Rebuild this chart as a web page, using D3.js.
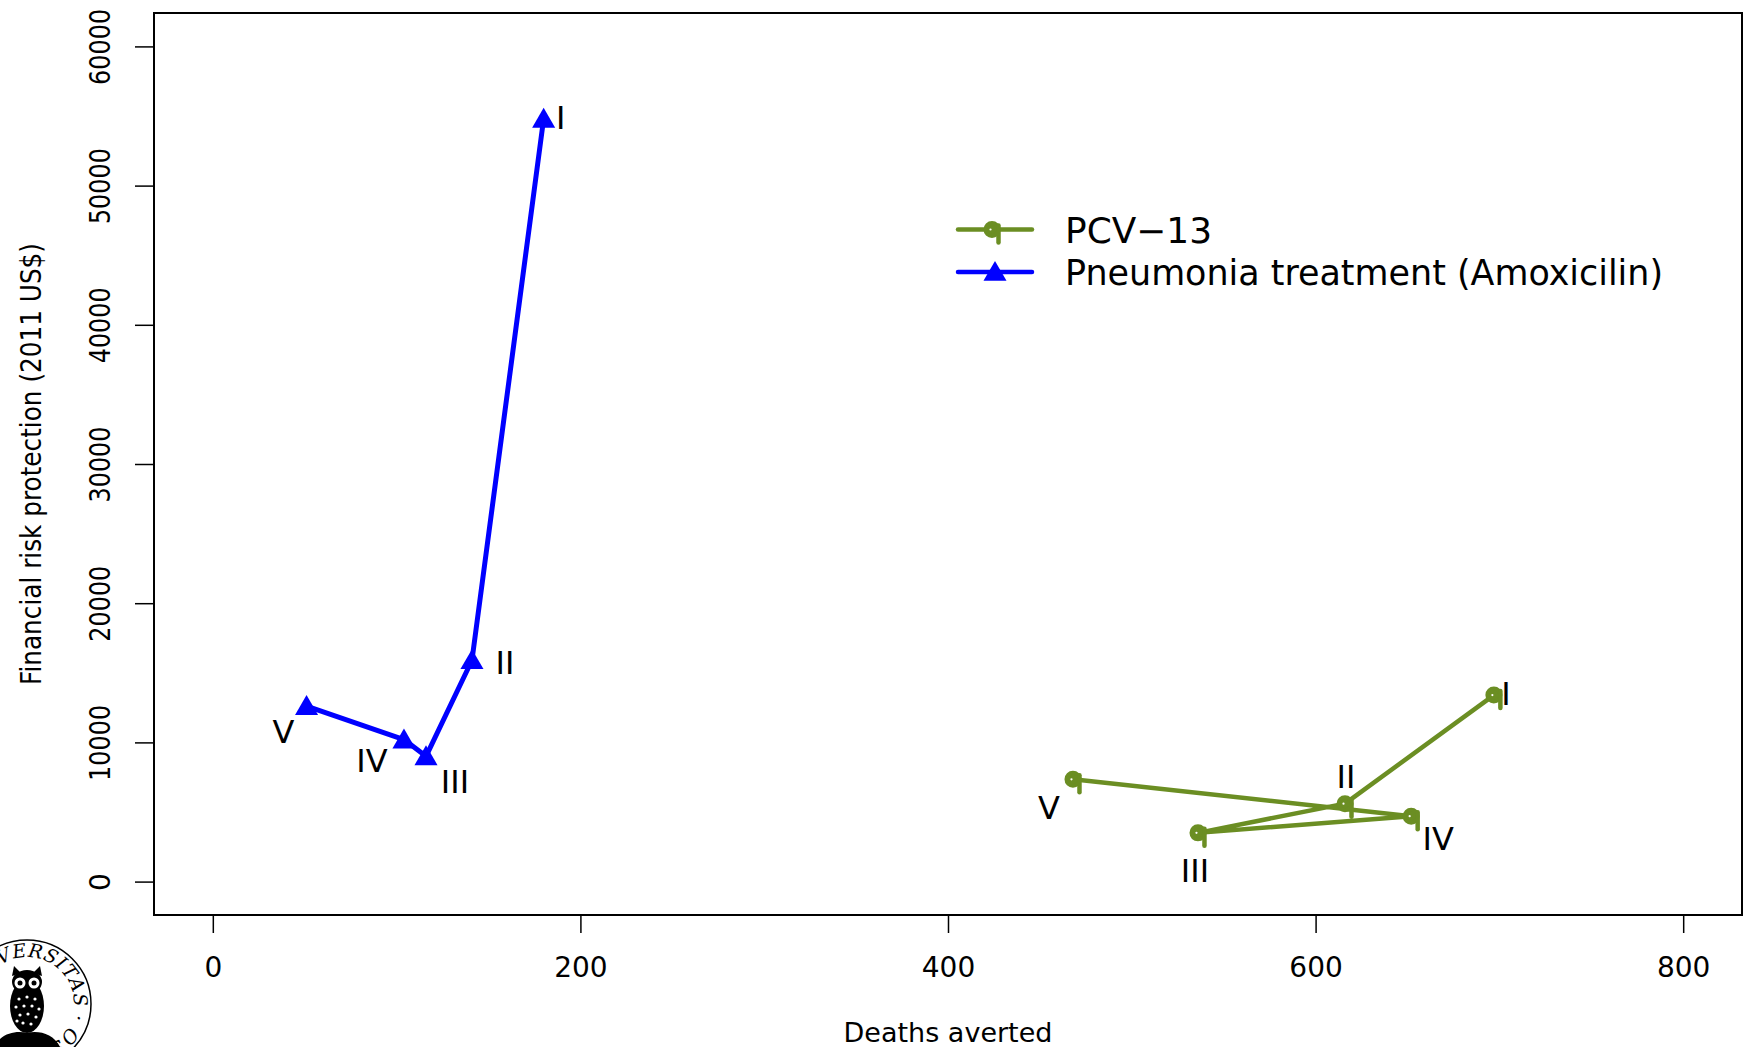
<!DOCTYPE html>
<html>
<head>
<meta charset="utf-8">
<script src="https://cdn.jsdelivr.net/npm/d3@7"></script>
<style>
  html, body { margin: 0; padding: 0; background: #fff; }
  svg { display: block; }
  text { font-family: "DejaVu Sans", sans-serif; fill: #000; }
</style>
</head>
<body>
<script>
// stages of the income quintile, I = poorest
const stages = ["I", "II", "III", "IV", "V"];

// PCV-13
const pcvDeaths = [697, 616, 536, 652, 468];
const pcvFrp = [13400, 5600, 3500, 4700, 7350];

// Pneumonia treatment (Amoxicilin)
const amoxDeaths = [180, 141, 116, 104, 51];
const amoxFrp = [54800, 15900, 9000, 10200, 12600];

const xTicks = [0, 200, 400, 600, 800];
const yTicks = [0, 10000, 20000, 30000, 40000, 50000, 60000];

const seriesNames = ["PCV\u221213", "Pneumonia treatment (Amoxicilin)"];

// where each roman numeral sits around its point (px)
const pcvLabelOff = [[12, -2], [1, -27], [-3, 37], [27, 22], [-24, 28]];
const amoxLabelOff = [[17, -1], [33, 2], [29, 25], [-32, 21], [-23, 25]];

const width = 1750, height = 1047;
const box = { left: 154, right: 1742, top: 13, bottom: 915 };

// R style 4% padding around the limits
const pad = (lo, hi) => [lo - (hi - lo) * 0.04, hi + (hi - lo) * 0.04];

const x = d3.scaleLinear().domain(pad(0, 800)).range([box.left, box.right]);
const y = d3.scaleLinear().domain(pad(0, 60000)).range([box.bottom, box.top]);

const svg = d3.select('body').append('svg')
    .attr('width', width)
    .attr('height', height);

// x axis
const xAxis = svg.append('g')
    .attr('transform', `translate(0,${box.bottom})`)
    .call(d3.axisBottom(x).tickValues(xTicks).tickFormat(d3.format('d')).tickSizeInner(18).tickSizeOuter(0));
xAxis.select('.domain').remove();
xAxis.selectAll('.tick line').attr('stroke', '#000').attr('stroke-width', 1.5);
xAxis.selectAll('.tick text')
    .attr('y', 62).attr('dy', 0)
    .style('font-size', '28px').style('font-family', '"DejaVu Sans", sans-serif');

// y axis
const yAxis = svg.append('g')
    .attr('transform', `translate(${box.left},0)`)
    .call(d3.axisLeft(y).tickValues(yTicks).tickFormat(d3.format('d')).tickSizeInner(19).tickSizeOuter(0));
yAxis.select('.domain').remove();
yAxis.selectAll('.tick line').attr('stroke', '#000').attr('stroke-width', 1.5);
yAxis.selectAll('.tick text')
    .attr('x', 0).attr('y', 0).attr('dy', 0)
    .attr('transform', 'translate(-44,0) rotate(-90)')
    .attr('text-anchor', 'middle')
    .attr('textLength', d => String(d).length === 1 ? null : 76)
    .attr('lengthAdjust', 'spacingAndGlyphs')
    .style('font-size', '28px').style('font-family', '"DejaVu Sans", sans-serif');

// plot frame
svg.append('rect')
    .attr('x', box.left).attr('y', box.top)
    .attr('width', box.right - box.left).attr('height', box.bottom - box.top)
    .attr('fill', 'none').attr('stroke', '#000').attr('stroke-width', 2);

// axis titles
svg.append('text')
    .attr('x', (box.left + box.right) / 2).attr('y', 1042)
    .attr('text-anchor', 'middle')
    .style('font-size', '27px')
    .text('Deaths averted');

svg.append('text')
    .attr('transform', `translate(41,${(box.top + box.bottom) / 2}) rotate(-90)`)
    .attr('text-anchor', 'middle')
    .attr('textLength', 442).attr('lengthAdjust', 'spacingAndGlyphs')
    .style('font-size', '28px')
    .text('Financial risk protection (2011 US$)');

const line = d3.line().x(d => x(d[0])).y(d => y(d[1]));
const pcvPts = pcvDeaths.map((d, i) => [d, pcvFrp[i]]);
const amoxPts = amoxDeaths.map((d, i) => [d, amoxFrp[i]]);

const green = '#6b8e23', blue = '#0000ff';

function greenMark(g) {
    g.append('circle').attr('r', 6.5).attr('fill', green).attr('stroke', green).attr('stroke-width', 4);
    g.append('circle').attr('cx', -1.5).attr('cy', 0).attr('r', 1.1).attr('fill', '#fff');
    g.append('line').attr('x1', 6.5).attr('x2', 6.5).attr('y1', -4).attr('y2', 13)
        .attr('stroke', green).attr('stroke-width', 4.5).attr('stroke-linecap', 'round');
}

const tri = d3.symbol().type(d3.symbolTriangle).size(230);
function blueMark(g) {
    // shift so the symbol's centroid matches R's pch 17 centre
    g.append('path').attr('d', tri()).attr('transform', 'translate(0,2.2)').attr('fill', blue);
}

// lines
svg.append('path').datum(pcvPts).attr('d', line)
    .attr('fill', 'none').attr('stroke', green).attr('stroke-width', 4.5)
    .attr('stroke-linejoin', 'round').attr('stroke-linecap', 'round');
svg.append('path').datum(amoxPts).attr('d', line)
    .attr('fill', 'none').attr('stroke', blue).attr('stroke-width', 5)
    .attr('stroke-linejoin', 'round').attr('stroke-linecap', 'round');

// markers
svg.append('g').selectAll('g').data(pcvPts).join('g')
    .attr('transform', d => `translate(${x(d[0])},${y(d[1])})`)
    .each(function () { greenMark(d3.select(this)); });
svg.append('g').selectAll('g').data(amoxPts).join('g')
    .attr('transform', d => `translate(${x(d[0])},${y(d[1])})`)
    .each(function () { blueMark(d3.select(this)); });

// stage labels
function stageLabels(pts, offs) {
    svg.append('g').selectAll('text').data(pts).join('text')
        .attr('x', (d, i) => x(d[0]) + offs[i][0])
        .attr('y', (d, i) => y(d[1]) + offs[i][1] + 11.7)
        .attr('text-anchor', 'middle')
        .style('font-size', '32px')
        .text((d, i) => stages[i]);
}
stageLabels(pcvPts, pcvLabelOff);
stageLabels(amoxPts, amoxLabelOff);

// legend
const legend = svg.append('g');
const legendRows = [
    { name: seriesNames[0], color: green, mark: greenMark, mx: 992, ly: 229.5, ty: 242.7, len: 147 },
    { name: seriesNames[1], color: blue, mark: blueMark, mx: 995, ly: 272, ty: 285, len: 598 }
];
legendRows.forEach(r => {
    legend.append('line').attr('x1', 958).attr('x2', 1032).attr('y1', r.ly).attr('y2', r.ly)
        .attr('stroke', r.color).attr('stroke-width', 4.5).attr('stroke-linecap', 'round');
    r.mark(legend.append('g').attr('transform', `translate(${r.mx},${r.ly})`));
    legend.append('text').attr('x', 1065).attr('y', r.ty)
        .attr('textLength', r.len).attr('lengthAdjust', 'spacingAndGlyphs')
        .style('font-size', '35.5px')
        .text(r.name);
});

// university seal peeking in at the bottom left corner
const seal = svg.append('g').attr('transform', 'translate(27,1004)');
seal.append('circle').attr('r', 64).attr('fill', 'none').attr('stroke', '#000').attr('stroke-width', 1.5);
const rr = 47;
seal.append('path').attr('id', 'sealArc').attr('fill', 'none')
    .attr('d', `M${-rr},0 A${rr},${rr} 0 1 1 ${rr},0 A${rr},${rr} 0 1 1 ${-rr},0`);
seal.append('text')
    .style('font-family', '"DejaVu Serif", serif').style('font-style', 'italic')
    .style('font-size', '19px').style('letter-spacing', '0.5px')
    .append('textPath').attr('href', '#sealArc').attr('startOffset', '4')
    .text('UNIVERSITAS \u00b7 OSLOENSIS \u00b7');
// owl
seal.append('ellipse').attr('cx', 0).attr('cy', 2).attr('rx', 17).attr('ry', 27).attr('fill', '#000');
seal.append('ellipse').attr('cx', 0).attr('cy', -22).attr('rx', 15).attr('ry', 12).attr('fill', '#000');
seal.append('path').attr('d', 'M-15,-28 L-13,-38 L-6,-31 Z M15,-28 L13,-38 L6,-31 Z').attr('fill', '#000');
[-7, 7].forEach(ex => {
    seal.append('circle').attr('cx', ex).attr('cy', -21).attr('r', 5.5).attr('fill', '#fff');
    seal.append('circle').attr('cx', ex).attr('cy', -21).attr('r', 2.5).attr('fill', '#000');
});
const spots = [[-8, -5], [0, -7], [8, -5], [-11, 3], [-3, 2], [5, 2], [12, 5], [-7, 11], [1, 10], [9, 13], [-4, 19], [4, 20], [-10, 17]];
seal.selectAll('.spot').data(spots).join('circle')
    .attr('cx', d => d[0]).attr('cy', d => d[1]).attr('r', 1.6).attr('fill', '#fff');
seal.append('path')
    .attr('d', 'M-34,45 C-28,30 -12,26 0,29 C12,26 28,30 34,45 Z')
    .attr('fill', '#000');
</script>
</body>
</html>
